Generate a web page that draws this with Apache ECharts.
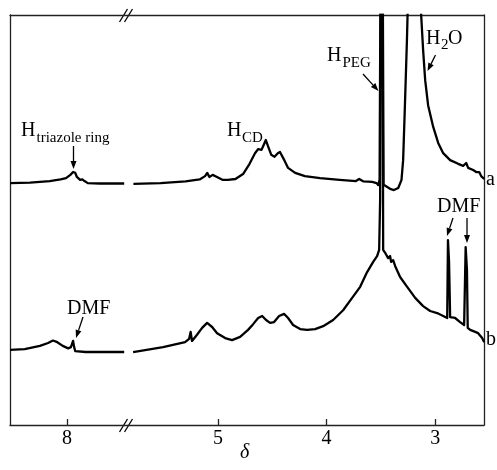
<!DOCTYPE html>
<html>
<head>
<meta charset="utf-8">
<script src="https://cdn.jsdelivr.net/npm/echarts@6/dist/echarts.min.js"></script>
<style>
  html, body { margin: 0; padding: 0; background: #fff; }
  #chart { width: 497px; height: 470px; }
</style>
</head>
<body>
<div id="chart"></div>
<script>
// chemical shift (ppm) vs intensity (arb. units)
const specALeft = [
  [8.525, 59.0], [8.34, 59.1], [8.16, 59.5], [8.06, 59.9], [8.01, 60.2],
  [7.97, 61.0], [7.945, 61.7], [7.925, 61.5], [7.91, 60.5], [7.88, 59.8],
  [7.86, 59.9], [7.84, 59.5], [7.81, 59.0], [7.70, 58.9], [7.475, 58.9]
];
const specARight = [
  [5.78, 58.8], [5.53, 59.0], [5.30, 59.4], [5.17, 59.9], [5.12, 60.7],
  [5.10, 61.5], [5.08, 60.5], [5.05, 61.0], [5.01, 60.5], [4.96, 59.8],
  [4.91, 59.8], [4.84, 60.0], [4.77, 61.2], [4.71, 63.7], [4.66, 66.3],
  [4.63, 67.3], [4.60, 67.1], [4.58, 68.3], [4.56, 69.5], [4.54, 68.0],
  [4.51, 65.9], [4.48, 65.4], [4.45, 66.3], [4.43, 66.6], [4.39, 64.6],
  [4.355, 62.7], [4.29, 61.5], [4.20, 60.7], [4.06, 60.2], [3.88, 59.8],
  [3.73, 59.5], [3.70, 60.0], [3.66, 59.4], [3.58, 59.3], [3.54, 59.0],
  [3.525, 58.5], [3.512, 59.8], [3.50, 130], [3.493, 200], [3.486, 130],
  [3.475, 58.6], [3.46, 58.3], [3.415, 57.6], [3.38, 57.3], [3.34, 57.8],
  [3.31, 59.8], [3.295, 64.6], [3.28, 76.8], [3.26, 93.9], [3.24, 115],
  [3.215, 150], [3.19, 190], [3.16, 150], [3.14, 112], [3.129, 100],
  [3.111, 91.5], [3.092, 84.1], [3.065, 78.0], [3.018, 72.7], [2.972, 68.8],
  [2.926, 66.3], [2.862, 64.6], [2.788, 63.7], [2.742, 63.2], [2.714, 63.9],
  [2.696, 62.7], [2.650, 62.2], [2.622, 61.7], [2.594, 61.7], [2.576, 60.7],
  [2.548, 60.0]
];
const specBLeft = [
  [8.525, 18.3], [8.39, 18.5], [8.25, 19.3], [8.175, 20.0], [8.13, 20.6],
  [8.09, 20.2], [8.04, 19.3], [7.99, 18.7], [7.965, 19.0], [7.945, 20.5],
  [7.935, 19.0], [7.925, 18.0], [7.83, 17.8], [7.475, 17.8]
];
const specBRight = [
  [5.783, 17.8], [5.507, 19.0], [5.304, 20.2], [5.267, 21.0], [5.253, 22.7],
  [5.24, 20.5], [5.194, 22.0], [5.147, 23.7], [5.101, 24.9], [5.055, 23.9],
  [5.009, 22.4], [4.935, 21.2], [4.871, 20.7], [4.797, 21.5], [4.724, 23.2],
  [4.677, 24.6], [4.631, 26.1], [4.594, 26.6], [4.558, 25.6], [4.521, 24.9],
  [4.484, 25.1], [4.438, 26.6], [4.392, 27.1], [4.355, 26.1], [4.309, 24.4],
  [4.244, 23.4], [4.180, 23.2], [4.106, 23.4], [4.032, 24.1], [3.940, 25.6],
  [3.848, 28.0], [3.765, 31.0], [3.691, 33.7], [3.627, 37.3], [3.571, 39.8],
  [3.535, 41.2], [3.516, 42.7], [3.507, 54.9], [3.500, 120], [3.493, 200],
  [3.486, 120], [3.479, 42.7], [3.461, 42.0], [3.433, 40.7], [3.415, 41.2],
  [3.406, 39.8], [3.387, 40.2], [3.369, 38.8], [3.323, 36.1], [3.258, 33.7],
  [3.184, 31.0], [3.111, 29.0], [3.046, 27.8], [2.982, 27.3], [2.926, 26.6],
  [2.889, 26.1], [2.882, 45.1], [2.872, 39.8], [2.862, 26.3], [2.816, 26.1],
  [2.770, 25.1], [2.733, 24.4], [2.719, 43.4], [2.707, 37.8], [2.700, 23.7],
  [2.677, 23.2], [2.631, 22.7], [2.604, 22.4], [2.567, 21.2], [2.548, 20.2]
];
const leftTicks = [8];
const rightTicks = [5, 4, 3];
const leftRange = [7.44, 8.525];
const rightRange = [2.55, 5.83];

const serif = '"Liberation Serif", "Times New Roman", serif';
const frameColor = '#222';

const chart = echarts.init(document.getElementById('chart'), null, { renderer: 'canvas' });

// 箭头
const arrow = (x1, y1, x2, y2) => {
  const ang = Math.atan2(y2 - y1, x2 - x1);
  const len = 8, half = 3;
  const bx = x2 - len * Math.cos(ang), by = y2 - len * Math.sin(ang);
  const px = -Math.sin(ang) * half, py = Math.cos(ang) * half;
  return [
    { type: 'line', shape: { x1, y1, x2: bx, y2: by }, style: { stroke: '#000', lineWidth: 1.3 } },
    { type: 'polygon', shape: { points: [[x2, y2], [bx + px, by + py], [bx - px, by - py]] }, style: { fill: '#000' } }
  ];
};

const txt = (text, x, y, size, extra) => ({
  type: 'text',
  style: Object.assign({
    text, x, y, fill: '#000',
    font: size + 'px ' + serif,
    verticalAlign: 'middle'
  }, extra || {})
});

// 断轴标记 //
const breakMark = (yc) => [
  { type: 'rect', shape: { x: 121, y: yc - 2, width: 10, height: 4 }, style: { fill: '#fff' } },
  { type: 'line', shape: { x1: 119.5, y1: yc + 7, x2: 127.5, y2: yc - 6 }, style: { stroke: '#000', lineWidth: 1.3 } },
  { type: 'line', shape: { x1: 124.5, y1: yc + 7, x2: 132.5, y2: yc - 6 }, style: { stroke: '#000', lineWidth: 1.3 } }
];

const xBase = (range, ticks, gridIndex, showLabel) => ({
  type: 'value',
  gridIndex,
  min: range[0],
  max: range[1],
  inverse: true,
  position: 'bottom',
  splitLine: { show: false },
  axisLine: { show: true, onZero: false, lineStyle: { color: frameColor, width: 1.3 } },
  axisTick: { show: true, inside: true, length: 6, customValues: ticks, lineStyle: { color: frameColor, width: 1.3 } },
  axisLabel: { show: showLabel, customValues: ticks, margin: 4, fontSize: 20, fontFamily: serif, color: '#000' }
});

const xTop = (range, gridIndex) => ({
  type: 'value',
  gridIndex,
  min: range[0],
  max: range[1],
  inverse: true,
  position: 'top',
  splitLine: { show: false },
  axisLine: { show: true, onZero: false, lineStyle: { color: frameColor, width: 1.3 } },
  axisTick: { show: false },
  axisLabel: { show: false }
});

const yBase = (gridIndex, position) => ({
  type: 'value',
  gridIndex,
  min: 0,
  max: 100,
  position,
  splitLine: { show: false },
  axisLine: { show: true, onZero: false, lineStyle: { color: frameColor, width: 1.3 } },
  axisTick: { show: false },
  axisLabel: { show: false }
});

const lineSeries = (data, xi, yi) => ({
  type: 'line',
  data,
  xAxisIndex: xi,
  yAxisIndex: yi,
  symbol: 'none',
  clip: true,
  animation: false,
  lineStyle: { color: '#000', width: 2.3, join: 'round' }
});

const option = {
  animation: false,
  backgroundColor: '#fff',
  grid: [
    { left: 10, top: 15, width: 118, height: 410, outerBoundsMode: 'none' },
    { left: 128, top: 15, width: 356, height: 410, outerBoundsMode: 'none' }
  ],
  xAxis: [
    xBase(leftRange, leftTicks, 0, true),
    xBase(rightRange, rightTicks, 1, true),
    xTop(leftRange, 0),
    xTop(rightRange, 1)
  ],
  yAxis: [
    yBase(0, 'left'),
    yBase(1, 'right')
  ],
  series: [
    lineSeries(specALeft, 0, 0),
    lineSeries(specARight, 1, 1),
    lineSeries(specBLeft, 0, 0),
    lineSeries(specBRight, 1, 1)
  ],
  graphic: [
    ...breakMark(15),
    ...breakMark(425),
    txt('H', 21, 131, 20),
    txt('triazole ring', 36.5, 138.5, 15),
    ...arrow(73.5, 146, 73.5, 169),
    txt('H', 227, 131, 20),
    txt('CD', 242, 138.5, 15),
    txt('H', 327, 56, 20),
    txt('PEG', 342.5, 63, 15),
    ...arrow(363, 74, 378.5, 91),
    txt('H', 426, 38.5, 20),
    txt('2', 441, 45, 15),
    txt('O', 448, 38.5, 20),
    ...arrow(435.5, 55, 427.5, 71),
    txt('DMF', 67, 308.5, 20),
    ...arrow(83, 317, 76, 338),
    txt('DMF', 437, 206.5, 20),
    ...arrow(453, 218, 447, 236),
    ...arrow(467, 218, 467, 243),
    txt('a', 486, 180, 20),
    txt('b', 486, 340, 20),
    txt('δ', 240, 453, 20, { font: 'italic 20px ' + serif })
  ]
};

chart.setOption(option);
</script>
</body>
</html>
